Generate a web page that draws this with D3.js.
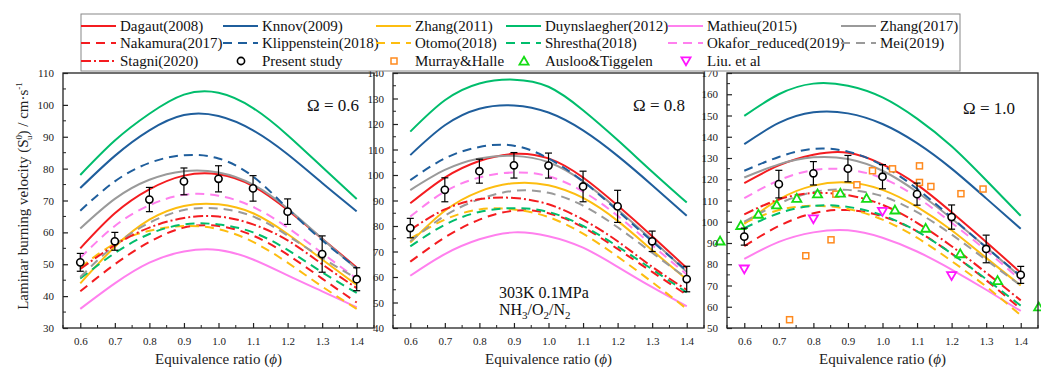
<!DOCTYPE html>
<html>
<head>
<meta charset="utf-8">
<script src="https://cdn.jsdelivr.net/npm/d3@7"></script>
<style>
  body { margin: 0; background: #fff; }
  svg text { font-family: "Liberation Serif", "Times New Roman", serif; }
</style>
</head>
<body>
<div id="chartContainer"></div>
<script>
// Equivalence ratio grid used for all model curves
const phi = [0.6, 0.7, 0.8, 0.9, 1.0, 1.1, 1.2, 1.3, 1.4];
const omegaLabels = ["Ω = 0.6", "Ω = 0.8", "Ω = 1.0"];

// model curves: one row per panel (Ω = 0.6, 0.8, 1.0)
const dagaut = [
  [55, 66, 73.5, 77.8, 78.2, 74.5, 67, 58, 49],
  [88.9, 99, 105.5, 108.3, 106.5, 99, 88, 76, 63.5],
  [118.2, 126.5, 131.5, 132.5, 127, 117.5, 104.5, 90.5, 76]];
const knnov = [
  [73.9, 84, 92, 96.8, 96.5, 92, 84.5, 75.5, 66.6],
  [107.8, 119.5, 126, 127.3, 124.5, 117.5, 107.5, 96, 84],
  [136.5, 146.5, 151.5, 151, 146, 137, 125, 111, 96.7]];
const zhang2011 = [
  [44, 55.5, 64, 68.3, 68.8, 66, 59.5, 51.5, 43.5],
  [73.5, 86, 93.5, 96.8, 96, 91, 82, 70.5, 59],
  [99, 110.5, 117, 118.5, 115, 107, 96, 83, 70]];
const duynslaegher = [
  [78, 88.8, 97.2, 103.2, 103.8, 99, 90.5, 80.5, 70.5],
  [117, 129.3, 135.9, 137.4, 134.6, 125.4, 113.7, 101.3, 89.2],
  [149.8, 160, 165, 164, 158.5, 148.5, 135.5, 119.5, 102.8]];
const mathieu = [
  [36, 44, 50.5, 54, 54.5, 51.5, 46.5, 41.5, 36.5],
  [60.5, 69, 74.8, 77.5, 76, 71.5, 64, 56, 48.5],
  [82.5, 90.5, 95, 96, 92.5, 86, 77.5, 68, 58]];
const zhang2017 = [
  [61.2, 70.5, 76.5, 79.2, 78.8, 75, 67.5, 58, 48.5],
  [94.1, 102, 106.5, 107.5, 105, 97.5, 86.5, 74.5, 62],
  [120.8, 127, 130.3, 129.5, 124, 114, 101.5, 88, 74]];
const nakamura = [
  [41.5, 50, 57, 61.5, 62, 59, 53, 45.5, 38],
  [66, 75.5, 82.5, 86, 85, 79.5, 71, 62, 53],
  [88.5, 98, 104, 105.5, 102.5, 95.5, 85, 72.5, 59]];
const klippenstein = [
  [66.8, 76, 81.8, 84.2, 83.2, 77.5, 67.5, 57.5, 48.8],
  [98, 106.5, 111, 111.5, 106.5, 97.5, 86, 74, 62.5],
  [124, 130.5, 134.3, 133, 126.5, 115.5, 102, 88, 74.5]];
const otomo = [
  [49, 56.5, 60.5, 62, 61, 57, 50.5, 43, 36],
  [75, 82.5, 86.5, 86.5, 83.5, 77, 68, 58, 47.5],
  [99.5, 105.5, 107.5, 106, 101, 92.5, 81.5, 69.5, 56]];
const shrestha = [
  [45.5, 53.5, 59.5, 62.5, 62.5, 60, 54.5, 47.5, 41],
  [72, 80.5, 85.5, 87, 85.5, 80, 72, 63, 54],
  [97, 104, 107.5, 107, 103, 95.5, 85, 73, 60.5]];
const okafor = [
  [52, 62, 68.5, 71.8, 71.5, 68, 61.5, 53.5, 45.5],
  [83.7, 93.5, 99, 101, 99.5, 93.5, 84, 72.5, 61],
  [111.1, 119.5, 124.3, 124.5, 120.5, 111.5, 99.5, 86.5, 72.5]];
const mei = [
  [46, 56, 63, 67, 67.5, 65, 59, 52, 45.5],
  [74, 84, 90.5, 93.8, 93, 88, 79.5, 69.5, 59.5],
  [100, 108.5, 114, 115, 112, 104.5, 94, 82, 70]];
const stagni = [
  [48.5, 56, 61.5, 64.5, 65, 62.5, 57.5, 50, 42.5],
  [78.5, 86.5, 90.5, 91, 88.5, 82.5, 74, 64, 55],
  [103.5, 110.5, 113.5, 112.5, 108, 99.5, 88.5, 76, 63]];

// present study measurements and error bars
const present = [
  [50.6, 57.2, 70.3, 76, 76.8, 73.8, 66.5, 53.2, 45.3],
  [79.2, 94.2, 101.5, 103.8, 103.7, 95.5, 87.7, 74, 59.2],
  [93, 117.7, 122.8, 125, 121.2, 113, 102.2, 87.2, 75]];
const presentErr = [
  [2.8, 2.8, 3.8, 4.2, 4.1, 4, 4, 5.7, 3.6],
  [3.8, 4.7, 4.7, 5, 4.9, 6, 6.3, 4, 5],
  [4, 6.5, 5.5, 6.2, 5.7, 5.2, 5.7, 6.5, 4]];

// literature data (Ω = 1.0 panel only)
const murrayPhi = [0.731, 0.778, 0.851, 0.865, 0.926, 0.971, 1.029, 1.107, 1.107, 1.14, 1.227, 1.291];
const murrayVal = [53.9, 84, 91.5, 113, 117.4, 124, 124.9, 126.3, 118.5, 116.6, 113.2, 115.4];
const auslooPhi = [0.53, 0.59, 0.641, 0.694, 0.752, 0.812, 0.878, 0.954, 1.036, 1.125, 1.225, 1.333, 1.452];
const auslooVal = [91, 98.3, 103.6, 108, 111.1, 113.2, 113.5, 111.1, 105.6, 97, 85, 72.4, 60];
const liuPhi = [0.6, 0.8, 1.0, 1.2];
const liuVal = [77.7, 101.3, 104.8, 74.6];

const yDomains = [[30, 110], [40, 140], [50, 170]];

// colours and dash styles
const RED = "#f41c20", BLUE = "#1f5e9c", YEL = "#fdbd10", GRN = "#00bd6c", PNK = "#ff80ee", GRY = "#9a9a9a";
const DASH = "9,6", DASHDOT = "10,3,2,3";
const SERIF = "'Liberation Serif', 'Times New Roman', serif";

const models = [
  {name: "Dagaut(2008)", data: dagaut, color: RED, dash: null},
  {name: "Knnov(2009)", data: knnov, color: BLUE, dash: null},
  {name: "Zhang(2011)", data: zhang2011, color: YEL, dash: null},
  {name: "Duynslaegher(2012)", data: duynslaegher, color: GRN, dash: null},
  {name: "Mathieu(2015)", data: mathieu, color: PNK, dash: null},
  {name: "Zhang(2017)", data: zhang2017, color: GRY, dash: null},
  {name: "Nakamura(2017)", data: nakamura, color: RED, dash: DASH},
  {name: "Klippenstein(2018)", data: klippenstein, color: BLUE, dash: DASH},
  {name: "Otomo(2018)", data: otomo, color: YEL, dash: DASH},
  {name: "Shrestha(2018)", data: shrestha, color: GRN, dash: DASH},
  {name: "Okafor_reduced(2019)", data: okafor, color: PNK, dash: DASH},
  {name: "Mei(2019)", data: mei, color: GRY, dash: DASH},
  {name: "Stagni(2020)", data: stagni, color: RED, dash: DASHDOT}
];

const width = 1041, height = 370;
const panelLeft = [63, 393, 727];
const panelW = 311;
const plotTop = 73, plotBottom = 328;

const svg = d3.create("svg")
  .attr("width", width)
  .attr("height", height)
  .attr("viewBox", [0, 0, width, height])
  .attr("font-family", SERIF);

svg.append("rect").attr("width", width).attr("height", height).attr("fill", "#fff");

// marker shapes
const triangle = d3.symbol(d3.symbolTriangle, 36);

function drawMarker(g, kind, cx, cy) {
  if (kind === "circle") {
    g.append("circle").attr("cx", cx).attr("cy", cy).attr("r", 3.6)
      .attr("fill", "#fff").attr("stroke", "#000").attr("stroke-width", 1.6);
  } else if (kind === "square") {
    g.append("rect").attr("x", cx - 3).attr("y", cy - 3).attr("width", 6).attr("height", 6)
      .attr("fill", "#fff").attr("stroke", "#ff8a1e").attr("stroke-width", 1.5);
  } else if (kind === "tri") {
    g.append("path").attr("d", triangle()).attr("transform", `translate(${cx},${cy + 1})`)
      .attr("fill", "#fff").attr("stroke", "#14dc14").attr("stroke-width", 1.8);
  } else if (kind === "itri") {
    g.append("path").attr("d", triangle()).attr("transform", `translate(${cx},${cy - 1}) rotate(180)`)
      .attr("fill", "#fff").attr("stroke", "#ff14ff").attr("stroke-width", 1.8);
  }
}

[0, 1, 2].forEach(function(p) {
  const x = d3.scaleLinear().domain([0.55, 1.45]).range([panelLeft[p], panelLeft[p] + panelW]);
  const y = d3.scaleLinear().domain(yDomains[p]).range([plotBottom, plotTop]);
  const g = svg.append("g");

  const line = d3.line()
    .x((d, i) => x(phi[i]))
    .y(d => y(d))
    .curve(d3.curveNatural);

  // model curves
  models.forEach(function(m) {
    g.append("path")
      .attr("d", line(m.data[p]))
      .attr("fill", "none")
      .attr("stroke", m.color)
      .attr("stroke-width", 2)
      .attr("stroke-dasharray", m.dash);
  });

  // literature points (Ω = 1.0)
  if (p === 2) {
    murrayPhi.forEach((f, i) => drawMarker(g, "square", x(f), y(murrayVal[i])));
    auslooPhi.forEach((f, i) => drawMarker(g, "tri", x(f), y(auslooVal[i])));
    liuPhi.forEach((f, i) => drawMarker(g, "itri", x(f), y(liuVal[i])));
  }

  // present study with error bars
  present[p].forEach(function(v, i) {
    const cx = x(phi[i]);
    const e = presentErr[p][i];
    g.append("line").attr("x1", cx).attr("x2", cx).attr("y1", y(v - e)).attr("y2", y(v + e))
      .attr("stroke", "#000").attr("stroke-width", 1.2);
    [v - e, v + e].forEach(function(c) {
      g.append("line").attr("x1", cx - 3.5).attr("x2", cx + 3.5).attr("y1", y(c)).attr("y2", y(c))
        .attr("stroke", "#000").attr("stroke-width", 1.2);
    });
    drawMarker(g, "circle", cx, y(v));
  });

  // frame
  g.append("rect")
    .attr("x", panelLeft[p]).attr("y", plotTop)
    .attr("width", panelW).attr("height", plotBottom - plotTop)
    .attr("fill", "none").attr("stroke", "#222").attr("stroke-width", 1.3);

  // y axis (ticks inward)
  const yMajor = d3.range(yDomains[p][0], yDomains[p][1] + 1, 10);
  const yMinor = d3.range(yDomains[p][0] + 5, yDomains[p][1], 10);
  const yAxis = g.append("g")
    .attr("transform", `translate(${panelLeft[p]},0)`)
    .call(d3.axisLeft(y).tickValues(yMajor).tickSize(-5).tickPadding(9).tickSizeOuter(0));
  yAxis.attr("font-family", SERIF);
  yAxis.select(".domain").remove();
  yAxis.selectAll("text").attr("font-size", 11).attr("fill", "#222");
  yAxis.selectAll("line").attr("stroke", "#222").attr("stroke-width", 1.2);
  yMinor.forEach(function(v) {
    g.append("line").attr("x1", panelLeft[p]).attr("x2", panelLeft[p] + 3)
      .attr("y1", y(v)).attr("y2", y(v)).attr("stroke", "#222").attr("stroke-width", 1);
  });

  // x axis (ticks inward)
  const xMajor = [0.6, 0.7, 0.8, 0.9, 1.0, 1.1, 1.2, 1.3, 1.4];
  const xMinor = [0.55, 0.65, 0.75, 0.85, 0.95, 1.05, 1.15, 1.25, 1.35, 1.45];
  const xAxis = g.append("g")
    .attr("transform", `translate(0,${plotBottom})`)
    .call(d3.axisBottom(x).tickValues(xMajor).tickFormat(d3.format(".1f")).tickSize(-5).tickPadding(9).tickSizeOuter(0));
  xAxis.attr("font-family", SERIF);
  xAxis.select(".domain").remove();
  xAxis.selectAll("text").attr("font-size", 11).attr("fill", "#222");
  xAxis.selectAll("line").attr("stroke", "#222").attr("stroke-width", 1.2);
  xMinor.forEach(function(v) {
    g.append("line").attr("x1", x(v)).attr("x2", x(v))
      .attr("y1", plotBottom).attr("y2", plotBottom - 3).attr("stroke", "#222").attr("stroke-width", 1);
  });

  // x axis title
  const xt = g.append("text")
    .attr("x", panelLeft[p] + panelW / 2).attr("y", 364)
    .attr("text-anchor", "middle").attr("font-size", 15).attr("fill", "#222");
  xt.append("tspan").text("Equivalence ratio (");
  xt.append("tspan").attr("font-style", "italic").text("ϕ");
  xt.append("tspan").text(")");

  // Ω label
  g.append("text")
    .attr("x", panelLeft[p] + 244 - p * 4).attr("y", 111 + (p === 2 ? 3 : 0))
    .attr("font-size", 17).attr("fill", "#111")
    .text(omegaLabels[p]);
});

// conditions annotation in the middle panel
svg.append("text").attr("x", 499).attr("y", 298).attr("font-size", 16).attr("fill", "#111").text("303K 0.1MPa");
const nh3 = svg.append("text").attr("x", 499).attr("y", 315).attr("font-size", 16).attr("fill", "#111");
nh3.append("tspan").text("NH");
nh3.append("tspan").attr("font-size", 11).attr("dy", 4).text("3");
nh3.append("tspan").attr("dy", -4).text("/O");
nh3.append("tspan").attr("font-size", 11).attr("dy", 4).text("2");
nh3.append("tspan").attr("dy", -4).text("/N");
nh3.append("tspan").attr("font-size", 11).attr("dy", 4).text("2");

// y axis title
const yt = svg.append("text")
  .attr("transform", "translate(28,196) rotate(-90)")
  .attr("text-anchor", "middle").attr("font-size", 15).attr("fill", "#222");
yt.append("tspan").text("Laminar burning velocity (S");
yt.append("tspan").attr("font-size", 9).attr("dy", -6).text("0");
yt.append("tspan").attr("font-size", 9).attr("dx", -5).attr("dy", 10).text("u");
yt.append("tspan").attr("dy", -4).text(") / cm·s");
yt.append("tspan").attr("font-size", 9).attr("dy", -6).text("-1");

// legend
const legend = svg.append("g");
legend.append("rect").attr("x", 81).attr("y", 14).attr("width", 879).attr("height", 57)
  .attr("fill", "#fff").attr("stroke", "#888").attr("stroke-width", 1);

const colText = [120, 262, 415, 545, 707, 880];
const rowY = [26, 43, 61];
const legendItems = models.map(m => ({name: m.name, color: m.color, dash: m.dash, marker: null}))
  .concat([
    {name: "Present study", marker: "circle"},
    {name: "Murray&Halle", marker: "square"},
    {name: "Ausloo&Tiggelen", marker: "tri"},
    {name: "Liu. et al", marker: "itri"}
  ]);

legendItems.forEach(function(it, i) {
  const c = i % 6, r = Math.floor(i / 6);
  const tx = colText[c], ly = rowY[r];
  if (it.marker) {
    drawMarker(legend, it.marker, tx - 21, ly);
  } else {
    legend.append("line").attr("x1", tx - 39).attr("x2", tx - 4).attr("y1", ly).attr("y2", ly)
      .attr("stroke", it.color).attr("stroke-width", 2).attr("stroke-dasharray", it.dash);
  }
  legend.append("text").attr("x", tx).attr("y", ly + 5).attr("font-size", 15).attr("fill", "#111").text(it.name);
});

document.getElementById("chartContainer").appendChild(svg.node());
</script>
</body>
</html>
